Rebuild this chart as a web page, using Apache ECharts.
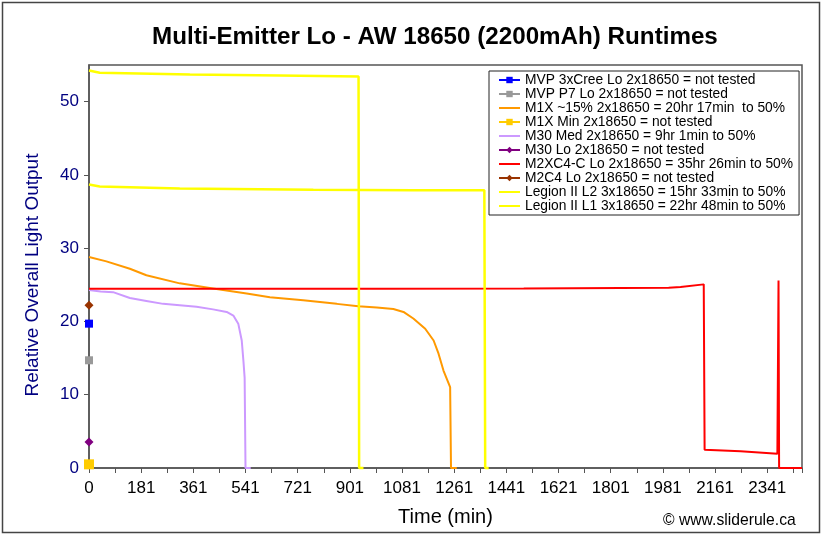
<!DOCTYPE html>
<html>
<head>
<meta charset="utf-8">
<script src="https://cdn.jsdelivr.net/npm/echarts@6/dist/echarts.min.js"></script>
<style>
html,body{margin:0;padding:0;background:#fff;}
#chart{width:823px;height:536px;}
</style>
</head>
<body>
<div id="chart"></div>
<script>
// ---- data ----
const xTickLabels = ['0','181','361','541','721','901','1081','1261','1441','1621','1801','1981','2161','2341'];

const seriesNames = [
  'MVP 3xCree Lo 2x18650 = not tested',
  'MVP P7 Lo 2x18650 = not tested',
  'M1X ~15% 2x18650 = 20hr 17min  to 50%',
  'M1X Min 2x18650 = not tested',
  'M30 Med 2x18650 = 9hr 1min to 50%',
  'M30 Lo 2x18650 = not tested',
  'M2XC4-C Lo 2x18650 = 35hr 26min to 50%',
  'M2C4 Lo 2x18650 = not tested',
  'Legion II L2 3x18650 = 15hr 33min to 50%',
  'Legion II L1 3x18650 = 22hr 48min to 50%'
];

const mvp3xCreeTime = [0];
const mvp3xCreeOutput = [19.7];
const mvpP7Time = [0];
const mvpP7Output = [14.7];
const m1xMinTime = [0];
const m1xMinOutput = [0.5];
const m30LoTime = [0];
const m30LoOutput = [3.55];
const m2c4LoTime = [0];
const m2c4LoOutput = [22.2];

const m1xTime   = [0, 60, 141, 198, 313, 428, 544, 624, 739, 855, 929, 993, 1050, 1085, 1119, 1160, 1189, 1206, 1223, 1246, 1249, 1269];
const m1xOutput = [28.8, 28.2, 27.2, 26.3, 25.2, 24.5, 23.8, 23.3, 22.9, 22.4, 22.06, 21.9, 21.7, 21.3, 20.4, 19.0, 17.4, 15.6, 13.3, 11.05, 0, 0];

const m30MedTime   = [0, 40, 83, 141, 198, 256, 313, 371, 428, 475, 498, 515, 527, 533, 537, 540, 558];
const m30MedOutput = [24.3, 24.1, 24.0, 23.2, 22.8, 22.4, 22.2, 22.0, 21.65, 21.3, 20.8, 19.7, 17.4, 14.5, 12.3, 0, 0];

const m2xc4Time   = [0, 500, 1000, 1500, 2000, 2041, 2121, 2124, 2248, 2375, 2377, 2379, 2381, 2460];
const m2xc4Output = [24.45, 24.45, 24.47, 24.5, 24.6, 24.7, 25.06, 2.5, 2.28, 1.96, 13.8, 25.6, 0, 0];

const legionL2Time   = [0, 37, 348, 659, 930, 932, 947];
const legionL2Output = [54.25, 53.95, 53.7, 53.57, 53.44, 0, 0];

const legionL1Time   = [0, 37, 313, 774, 1119, 1364, 1367, 1379];
const legionL1Output = [38.7, 38.43, 38.16, 37.98, 37.89, 37.89, 0, 0];

// ---- build chart ----
const FONT = "'Liberation Sans', Arial, sans-serif";
function zip(xs, ys) { return xs.map((x, i) => [x, ys[i]]); }

function markerSeries(name, xs, ys, color, symbol, size) {
  return {
    name, type: 'line', data: zip(xs, ys), clip: false,
    symbol, symbolSize: size, showSymbol: true,
    itemStyle: { color }, lineStyle: { color, width: 2 }
  };
}
function lineSeries(name, xs, ys, color, width) {
  return {
    name, type: 'line', data: zip(xs, ys), clip: false,
    symbol: 'none', showSymbol: false,
    itemStyle: { color }, lineStyle: { color, width }
  };
}

const lineOnly = [2, 4, 6, 8, 9];
const legendData = seriesNames.map((n, i) =>
  lineOnly.includes(i) ? { name: n, itemStyle: { opacity: 0 } } : { name: n });

const chart = echarts.init(document.getElementById('chart'), null, { renderer: 'canvas' });
chart.setOption({
  animation: false,
  backgroundColor: '#fff',
  textStyle: { fontFamily: FONT },
  title: {
    text: 'Multi-Emitter Lo - AW 18650 (2200mAh) Runtimes',
    left: 147, top: 20,
    textStyle: { fontFamily: FONT, fontSize: 24.2, fontWeight: 'bold', color: '#000' }
  },
  grid: {
    left: 89, right: 21, top: 65, bottom: 68,
    show: true, borderColor: '#555', borderWidth: 1.5, backgroundColor: '#fff'
  },
  legend: {
    orient: 'vertical', left: 489, top: 71,
    padding: [2, 6, 2, 9],
    itemWidth: 21, itemHeight: 8, itemGap: 0,
    borderColor: '#222', borderWidth: 1, backgroundColor: '#fff',
    textStyle: { fontFamily: FONT, fontSize: 13.8, lineHeight: 14, color: '#000' },
    data: legendData
  },
  xAxis: {
    type: 'value', min: 0, max: 2460, interval: 90,
    name: 'Time (min)', nameLocation: 'middle', nameGap: 39,
    nameTextStyle: { fontFamily: FONT, fontSize: 20, color: '#000' },
    axisLine: { show: true, lineStyle: { color: '#555', width: 1.5 } },
    axisTick: { show: true, inside: false, length: 5, lineStyle: { color: '#555' } },
    axisLabel: {
      fontFamily: FONT, fontSize: 17, color: '#000', margin: 12,
      formatter: v => (v % 180 === 0 ? xTickLabels[v / 180] : '')
    },
    splitLine: { show: false }
  },
  yAxis: {
    type: 'value', min: 0, max: 55, interval: 10,
    axisLine: { show: true, lineStyle: { color: '#555', width: 1.5 } },
    axisTick: { show: true, inside: false, length: 5, lineStyle: { color: '#555' } },
    axisLabel: { fontFamily: FONT, fontSize: 17, color: '#000080', margin: 10, showMaxLabel: false },
    splitLine: { show: false }
  },
  graphic: [
    { type: 'rect', shape: { x: 2.5, y: 2.5, width: 817, height: 530 },
      style: { fill: null, stroke: '#444', lineWidth: 1.5 }, silent: true, z: 100 },
    { type: 'text', x: 33, y: 275, rotation: Math.PI / 2,
      style: { text: 'Relative Overall Light Output', font: "19px 'Liberation Sans', Arial, sans-serif",
               fill: '#000080', align: 'center', verticalAlign: 'middle' } },
    { type: 'text', left: 663, top: 513,
      style: { text: '\u00A9 www.sliderule.ca', font: "15.7px 'Liberation Sans', Arial, sans-serif", fill: '#000' } }
  ],
  series: [
    markerSeries(seriesNames[0], mvp3xCreeTime, mvp3xCreeOutput, '#0000FF', 'rect', 8),
    markerSeries(seriesNames[1], mvpP7Time, mvpP7Output, '#999999', 'rect', 8),
    lineSeries(seriesNames[2], m1xTime, m1xOutput, '#FF9900', 2),
    markerSeries(seriesNames[3], m1xMinTime, m1xMinOutput, '#FFCC00', 'rect', 10),
    lineSeries(seriesNames[4], m30MedTime, m30MedOutput, '#CC99FF', 2),
    markerSeries(seriesNames[5], m30LoTime, m30LoOutput, '#800080', 'diamond', 9),
    lineSeries(seriesNames[6], m2xc4Time, m2xc4Output, '#FF0000', 2),
    markerSeries(seriesNames[7], m2c4LoTime, m2c4LoOutput, '#993300', 'diamond', 9),
    lineSeries(seriesNames[8], legionL2Time, legionL2Output, '#FFFF00', 2.5),
    lineSeries(seriesNames[9], legionL1Time, legionL1Output, '#FFFF00', 2.5)
  ]
});
</script>
</body>
</html>
